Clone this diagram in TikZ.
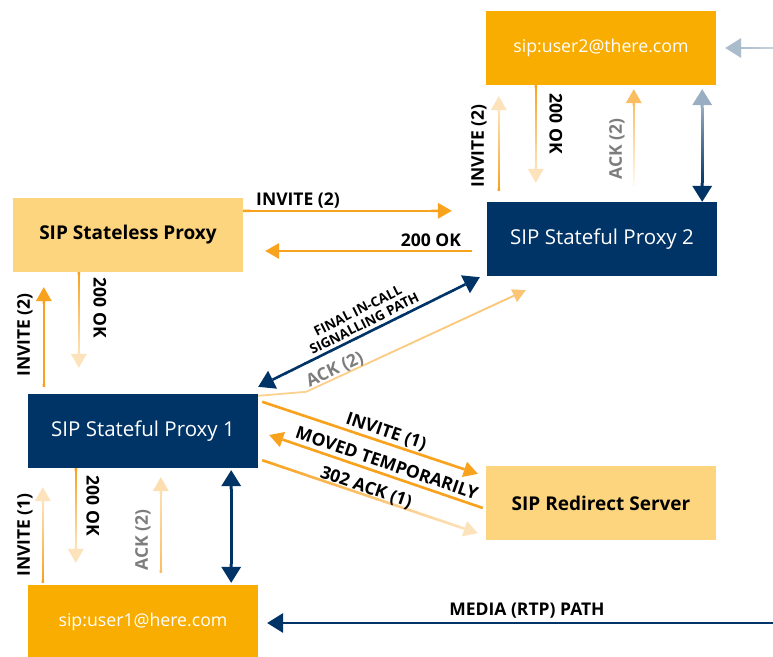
\documentclass[tikz,border=0pt]{standalone}
\usepackage{fontspec}
\setmainfont{Open Sans}
\usetikzlibrary{calc}

\definecolor{sipnavy}{HTML}{003466}
\definecolor{siporange}{HTML}{F9AD00}
\definecolor{siparrow}{HTML}{F8A21E}
\definecolor{sipsand}{HTML}{FDD57E}
\definecolor{sipgray}{HTML}{7D7D7D}

% head size: length and half width
\def\headlen{14pt}
\def\headhw{8pt}

% shaft drawn as short pieces whose tint runs from #4 to #5 percent of the colour
\newcommand\gradseg[6]{%
  \foreach \k in {0,...,29}{%
    \pgfmathsetmacro\ta{\k/30}%
    \pgfmathsetmacro\tb{min(1,(\k+1.1)/30)}%
    \pgfmathtruncatemacro\mx{round(#4+(#5-#4)*(\k+0.5)/30)}%
    \draw[line width=#6, #3!\mx!white] ($(#1)!\ta!(#2)$) -- ($(#1)!\tb!(#2)$);
  }}
% filled triangular head with its point at #1, pointing away from #2
\newcommand\headat[3]{%
  \path ($(#1)!\headlen!(#2)$) coordinate (hbk);
  \fill[#3] (#1) -- ($(hbk)!\headhw!90:(#1)$) -- ($(hbk)!\headhw!-90:(#1)$) -- cycle;}
% one-headed arrow: tail, tip, colour, tint at tail, tint at tip, width
\newcommand\arr[6]{%
  \path ($(#2)!\headlen!(#1)$) coordinate (hb);
  \gradseg{#1}{hb}{#3}{#4}{#5}{#6}
  \headat{#2}{#1}{#3!#5!white}}
% two-headed arrow: end a, end b, colour, tint at a, tint at b, width
\newcommand\darr[6]{%
  \path ($(#1)!\headlen!(#2)$) coordinate (hba);
  \path ($(#2)!\headlen!(#1)$) coordinate (hbb);
  \gradseg{hba}{hbb}{#3}{#4}{#5}{#6}
  \headat{#1}{#2}{#3!#4!white}
  \headat{#2}{#1}{#3!#5!white}}
% larger heads for the navy signalling and media paths
\newcommand\bigheads{\def\headlen{16pt}\def\headhw{10pt}}

\begin{document}
\begin{tikzpicture}[x=1pt,y=-1pt,
  box/.style={minimum width=230pt, minimum height=74pt, inner sep=0pt,
    font=\fontsize{20.5}{24}\selectfont},
  userbox/.style={box, fill=siporange, text=white, font=\fontsize{17.7}{21}\selectfont},
  sandbox/.style={box, fill=sipsand, text=black, font=\bfseries\fontsize{19}{23}\selectfont},
  navybox/.style={box, fill=sipnavy, text=white},
  lbl/.style={inner sep=0pt, font=\bfseries\fontsize{17.5}{20}\selectfont},
  glbl/.style={lbl, text=sipgray},
  small/.style={inner sep=0pt, align=center, font=\bfseries\fontsize{13.5}{14.5}\selectfont}]

\fill[white] (0,0) rectangle (773,656);
\useasboundingbox (0,0) rectangle (773,656);

% boxes
\node[userbox] (user2) at (601,48) {sip:user2@there.com};
\node[sandbox] (stateless) at (128,235) {SIP Stateless Proxy};
\node[navybox] (sp2) at (602,239) {SIP Stateful Proxy 2};
\node[navybox] (sp1) at (143,431) {SIP Stateful Proxy 1};
\node[sandbox] (redirect) at (601,503) {SIP Redirect Server};
\node[userbox] (user1) at (143,622) {sip:user1@here.com};

% free ends at the right border
\coordinate (rin) at (773,48);
\coordinate (media) at (773,623);

% user2 <-> proxy 2
\coordinate (r2tip) at ($(user2.east)+(9,0)$);
{\bigheads \arr{rin}{r2tip}{sipnavy}{22}{33}{2.6pt}}
\coordinate (inv2a-s) at ($(sp2.north west)+(12,-11)$);
\coordinate (inv2a-e) at ($(user2.south west)+(13,11)$);
\arr{inv2a-s}{inv2a-e}{siparrow}{100}{30}{2.6pt}
\coordinate (ok2a-s) at ($(user2.south west)+(50,0)$);
\coordinate (ok2a-e) at ($(sp2.north west)+(49,-19)$);
\arr{ok2a-s}{ok2a-e}{siparrow}{100}{30}{2.6pt}
\coordinate (ack2a-s) at ($(sp2.north west)+(147,-16)$);
\coordinate (ack2a-e) at ($(user2.south west)+(148,4)$);
\arr{ack2a-s}{ack2a-e}{siparrow}{5}{70}{2.6pt}
\coordinate (sig2-a) at ($(user2.south east)+(-14,4)$);
\coordinate (sig2-b) at ($(sp2.north east)+(-15,0)$);
{\bigheads \darr{sig2-a}{sig2-b}{sipnavy}{40}{100}{3pt}}

\node[lbl, rotate=90] (l-inv2a) at (479,146) {INVITE (2)};
\node[lbl, rotate=-90] (l-ok2a) at (556,124) {200 OK};
\node[glbl, rotate=90] (l-ack2a) at (617,149) {ACK (2)};

% stateless proxy <-> proxy 2
\coordinate (inv2h-s) at ($(stateless.north east)+(0,13)$);
\coordinate (inv2h-e) at ($(sp2.north west)+(-35,9)$);
\arr{inv2h-s}{inv2h-e}{siparrow}{100}{100}{2.6pt}
\coordinate (ok2h-s) at ($(sp2.west)+(-15,12)$);
\coordinate (ok2h-e) at ($(stateless.east)+(22,16)$);
\arr{ok2h-s}{ok2h-e}{siparrow}{100}{100}{2.6pt}
\node[lbl] (l-inv2h) at (298,201) {INVITE (2)};
\node[lbl] (l-ok2h) at (431,240) {200 OK};

% stateless proxy <-> proxy 1
\coordinate (ok2b-s) at ($(stateless.south west)+(66,0)$);
\coordinate (ok2b-e) at ($(sp1.north west)+(51,-26)$);
\arr{ok2b-s}{ok2b-e}{siparrow}{100}{30}{2.6pt}
\coordinate (inv2b-s) at ($(sp1.north west)+(16,-7)$);
\coordinate (inv2b-e) at ($(stateless.south west)+(31,15)$);
\arr{inv2b-s}{inv2b-e}{siparrow}{100}{100}{2.6pt}
\node[lbl, rotate=-90] (l-ok2b) at (100,308) {200 OK};
\node[lbl, rotate=90] (l-inv2b) at (25,335) {INVITE (2)};

% proxy 1 <-> proxy 2
\coordinate (fin-a) at ($(sp1.north east)+(0,-7)$);
\coordinate (fin-b) at ($(sp2.south west)+(-7,1)$);
{\bigheads \darr{fin-a}{fin-b}{sipnavy}{100}{100}{2.6pt}}
\node[small, rotate=26.6] (l-fin) at (361,317) {FINAL IN-CALL\\SIGNALLING PATH};
\coordinate (ack2d-s) at ($(sp1.north east)+(0,2)$);
\coordinate (ack2d-m) at ($(sp1.north east)+(48,-2)$);
\coordinate (ack2d-e) at ($(sp2.south west)+(39,14)$);
\draw[line width=1.8pt, siparrow!50!white] (ack2d-s) -- (ack2d-m);
{\def\headlen{13pt}\def\headhw{7pt}\arr{ack2d-m}{ack2d-e}{siparrow}{50}{62}{1.8pt}}
\node[glbl, rotate=25] (l-ack2d) at (335,370) {ACK (2)};

% proxy 1 <-> redirect server
\coordinate (inv1d-s) at ($(sp1.north east)+(4,8)$);
\coordinate (inv1d-e) at ($(redirect.north west)+(-8,8)$);
\arr{inv1d-s}{inv1d-e}{siparrow}{100}{100}{2.6pt}
\coordinate (mov-s) at ($(redirect.west)+(-3,5)$);
\coordinate (mov-e) at ($(sp1.east)+(11,4)$);
\arr{mov-s}{mov-e}{siparrow}{100}{100}{2.6pt}
\coordinate (ack1-s) at ($(sp1.south east)+(4,-8)$);
\coordinate (ack1-e) at ($(redirect.south west)+(-8,-7)$);
\arr{ack1-s}{ack1-e}{siparrow}{100}{30}{2.6pt}
\node[lbl, rotate=-18.8] (l-inv1d) at (386,432) {INVITE (1)};
\node[lbl, rotate=-19] (l-mov) at (387,463) {MOVED TEMPORARILY};
\node[lbl, rotate=-18.8] (l-ack1) at (366,488) {302 ACK (1)};

% proxy 1 <-> user1
\coordinate (ok1-s) at ($(sp1.south west)+(48,0)$);
\coordinate (ok1-e) at ($(user1.north west)+(48,-22)$);
\arr{ok1-s}{ok1-e}{siparrow}{100}{30}{2.6pt}
\coordinate (inv1-s) at ($(user1.north west)+(15,-2)$);
\coordinate (inv1-e) at ($(sp1.south west)+(15,19)$);
\arr{inv1-s}{inv1-e}{siparrow}{100}{30}{2.6pt}
\coordinate (ack2b-s) at ($(user1.north west)+(133,-12)$);
\coordinate (ack2b-e) at ($(sp1.south west)+(133,9)$);
\arr{ack2b-s}{ack2b-e}{siparrow}{70}{35}{2.6pt}
\coordinate (sig1-a) at ($(sp1.south east)+(-27,2)$);
\coordinate (sig1-b) at ($(user1.north east)+(-27,-2)$);
{\bigheads \darr{sig1-a}{sig1-b}{sipnavy}{100}{100}{3pt}}
\node[lbl, rotate=-90] (l-ok1) at (93,506) {200 OK};
\node[lbl, rotate=90] (l-inv1) at (25,535) {INVITE (1)};
\node[glbl, rotate=90] (l-ack2b) at (143,540) {ACK (2)};

% media path
\coordinate (media-e) at ($(user1.east)+(9,1)$);
{\bigheads \arr{media}{media-e}{sipnavy}{100}{100}{2.6pt}}
\node[lbl] (l-media) at (527,611) {MEDIA (RTP) PATH};
\end{tikzpicture}
\end{document}
